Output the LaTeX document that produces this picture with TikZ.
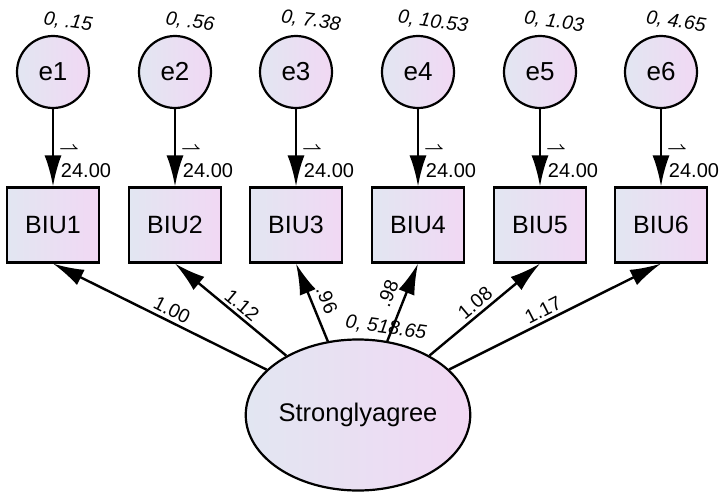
\documentclass[tikz,border=0pt]{standalone}
\usepackage{fontspec}
\setmainfont{Liberation Sans}
\usetikzlibrary{shapes.geometric,arrows.meta}
\definecolor{shadeleft}{RGB}{226,230,242}
\definecolor{shaderight}{RGB}{241,216,243}
\tikzset{
  errvar/.style={circle,draw,line width=2.2pt,minimum size=72pt,inner sep=0pt,
    left color=shadeleft,right color=shaderight,font=\fontsize{26}{30}\selectfont},
  obsvar/.style={rectangle,draw,line width=2.2pt,minimum width=92pt,minimum height=75pt,
    inner sep=0pt,left color=shadeleft,right color=shaderight,font=\fontsize{25}{30}\selectfont},
  latvar/.style={ellipse,draw,line width=2.2pt,minimum width=187pt,minimum height=151pt,
    inner sep=0pt,left color=shadeleft,right color=shaderight,font=\fontsize{25.5}{30}\selectfont},
  varlab/.style={font=\fontsize{19.5}{22}\selectfont\itshape,rotate=-8,inner sep=0pt},
  icptlab/.style={font=\fontsize{20}{22}\selectfont,inner sep=0pt},
  harp/.style={font=\fontsize{19}{20}\selectfont\boldmath,inner sep=0pt},
  loadlab/.style={font=\fontsize{19.5}{22}\selectfont,inner sep=0pt},
  regarrow/.style={-{Latex[length=31pt,width=17pt]},line width=2.4pt}
}
\begin{document}
\begin{tikzpicture}[x=1pt,y=-1pt]
            \useasboundingbox (0,0) rectangle (720,495);
            \fill[white] (0,0) rectangle (720,495);

            \node[errvar] (e1) at (53,72) {e1};
            \node[errvar] (e2) at (175,72) {e2};
            \node[errvar] (e3) at (296,72) {e3};
            \node[errvar] (e4) at (418,72) {e4};
            \node[errvar] (e5) at (540,72) {e5};
            \node[errvar] (e6) at (661,72) {e6};

            \node[obsvar] (BIU1) at (53,225) {BIU1};
            \node[obsvar] (BIU2) at (175,225) {BIU2};
            \node[obsvar] (BIU3) at (296,225) {BIU3};
            \node[obsvar] (BIU4) at (418,225) {BIU4};
            \node[obsvar] (BIU5) at (540,225) {BIU5};
            \node[obsvar] (BIU6) at (661,225) {BIU6};

            \node[latvar] (SA) at (358,415) {Stronglyagree};

            % variances
            \node[varlab] (v1) at (68,22) {0, .15};
            \node[varlab] (v2) at (190,22) {0, .56};
            \node[varlab] (v3) at (311,21) {0, 7.38};
            \node[varlab] (v4) at (433,22) {0, 10.53};
            \node[varlab] (v5) at (554,22) {0, 1.03};
            \node[varlab] (v6) at (676,22) {0, 4.65};
            \node[varlab] (vSA) at (386,328) {0, 518.65};

            % intercepts
            \node[harp] (h1) at (69,150) {$\rightharpoonup$};
            \node[harp] (h2) at (191,150) {$\rightharpoonup$};
            \node[harp] (h3) at (312,150) {$\rightharpoonup$};
            \node[harp] (h4) at (434,150) {$\rightharpoonup$};
            \node[harp] (h5) at (556,150) {$\rightharpoonup$};
            \node[harp] (h6) at (677,150) {$\rightharpoonup$};
            \node[icptlab] (i1) at (86,171) {24.00};
            \node[icptlab] (i2) at (208,171) {24.00};
            \node[icptlab] (i3) at (329,171) {24.00};
            \node[icptlab] (i4) at (451,171) {24.00};
            \node[icptlab] (i5) at (573,171) {24.00};
            \node[icptlab] (i6) at (694,171) {24.00};

            \draw[regarrow] (e1) to (BIU1); \draw[regarrow] (e2) to (BIU2);
            \draw[regarrow] (e3) to (BIU3); \draw[regarrow] (e4) to (BIU4);
            \draw[regarrow] (e5) to (BIU5); \draw[regarrow] (e6) to (BIU6);

            \draw[regarrow] (SA) to (BIU1.south); \draw[regarrow] (SA) to (BIU2.south);
            \draw[regarrow] (SA) to (BIU3.south); \draw[regarrow] (SA) to (BIU4.south);
            \draw[regarrow] (SA) to (BIU5.south); \draw[regarrow] (SA) to (BIU6.south);

            % loadings
            \node[loadlab,rotate=-27] (l1) at (172,310) {1.00};
            \node[loadlab,rotate=-40] (l2) at (242,305) {1.12};
            \node[loadlab,rotate=-68] (l3) at (327,300) {.96};
            \node[loadlab,rotate=68] (l4) at (388,293) {.98};
            \node[loadlab,rotate=40] (l5) at (475,303) {1.08};
            \node[loadlab,rotate=27] (l6) at (543,310) {1.17};
        \end{tikzpicture}
\end{document}
